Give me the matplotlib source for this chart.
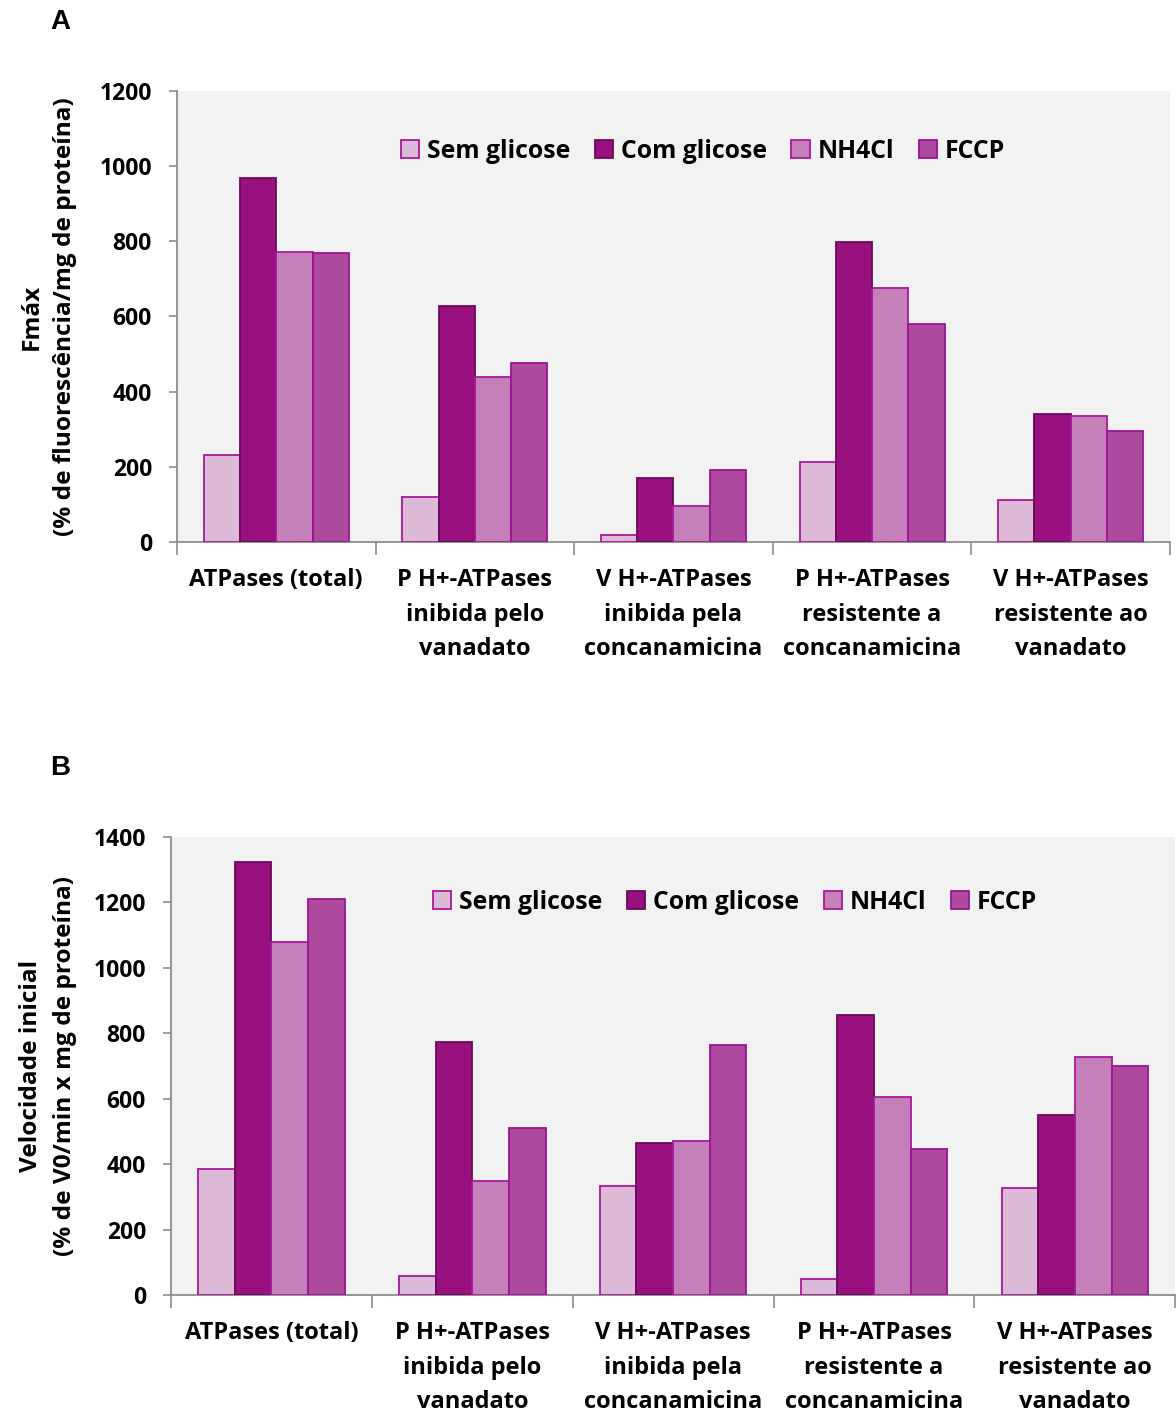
import matplotlib
matplotlib.use("Agg")
import matplotlib.pyplot as plt
import numpy as np

# Data
categories = [
    "ATPases (total)",
    "P H+-ATPases\ninibida pelo\nvanadato",
    "V H+-ATPases\ninibida pela\nconcanamicina",
    "P H+-ATPases\nresistente a\nconcanamicina",
    "V H+-ATPases\nresistente ao\nvanadato",
]
series_names = ["Sem glicose", "Com glicose", "NH4Cl", "FCCP"]

fmax_sem = [231, 120, 19, 213, 112]
fmax_com = [968, 628, 170, 798, 341]
fmax_nh4 = [772, 439, 96, 676, 335]
fmax_fccp = [769, 476, 192, 580, 295]

v0_sem = [385, 58, 333, 49, 327]
v0_com = [1324, 773, 465, 856, 550]
v0_nh4 = [1079, 349, 471, 605, 728]
v0_fccp = [1211, 510, 764, 446, 700]

yticks_a = [0, 200, 400, 600, 800, 1000, 1200]
yticks_b = [0, 200, 400, 600, 800, 1000, 1200, 1400]

# Style
fill_colors = ["#dcb9d6", "#99117f", "#c580ba", "#ad4a9e"]
edge_colors = ["#a8189a", "#6a0a58", "#a8189a", "#9c1392"]
BODY = "Open Sans"
SPINE = "#8c8c8c"

fig = plt.figure(figsize=(11.76, 14.12), dpi=100)


def draw_panel(rect, values, yticks, ylabel, legend_anchor, labelpad):
    ax = fig.add_axes(rect)
    ax.set_facecolor("#f2f2f2")
    n = len(categories)
    x = np.arange(n)
    group_w = 0.73
    bw = group_w / len(values)
    for i, vals in enumerate(values):
        offs = -group_w / 2 + bw * (i + 0.5)
        ax.bar(x + offs, vals, width=bw, color=fill_colors[i],
               edgecolor=edge_colors[i], linewidth=1.3,
               label=series_names[i], zorder=3)
    ax.set_xlim(-0.5, n - 0.5)
    ax.set_ylim(yticks[0], yticks[-1])
    ax.set_yticks(yticks)
    ax.set_yticklabels([str(t) for t in yticks], fontfamily=BODY,
                       fontweight="bold", fontsize=16.5)
    ax.tick_params(axis="y", length=6, width=1.2, color=SPINE, pad=12)
    # category boundaries carry the tick marks, centres carry the labels
    ax.set_xticks(np.arange(-0.5, n, 1.0))
    ax.set_xticklabels([])
    ax.tick_params(axis="x", which="major", length=9, width=1.2, color=SPINE)
    ax.set_xticks(x, minor=True)
    ax.set_xticklabels(categories, minor=True, fontfamily=BODY,
                       fontweight="bold", fontsize=17, linespacing=1.58)
    ax.tick_params(axis="x", which="minor", length=0, pad=19)
    for s in ("top", "right"):
        ax.spines[s].set_visible(False)
    for s in ("left", "bottom"):
        ax.spines[s].set_color(SPINE)
        ax.spines[s].set_linewidth(1.3)
    ax.set_ylabel(ylabel, fontfamily=BODY, fontweight="bold", fontsize=17.6,
                  linespacing=1.55, labelpad=labelpad)
    ax.legend(loc="center", bbox_to_anchor=legend_anchor, ncol=4,
              frameon=False, prop={"family": BODY, "weight": "bold", "size": 17.8},
              handlelength=0.75, handleheight=0.75, handletextpad=0.3,
              columnspacing=1.0, borderaxespad=0)
    return ax


ax_a = draw_panel([0.1505, 0.6161, 0.8444, 0.3195],
                  [fmax_sem, fmax_com, fmax_nh4, fmax_fccp], yticks_a,
                  "Fmáx\n(% de fluorescência/mg de proteína)", (0.5295, 0.866), 16)
ax_b = draw_panel([0.1454, 0.0829, 0.8540, 0.3243],
                  [v0_sem, v0_com, v0_nh4, v0_fccp], yticks_b,
                  "Velocidade inicial\n(% de V0/min x mg de proteína)", (0.5615, 0.858), 12)

fig.text(60 / 1176, 1 - 22 / 1412, "A", family="Liberation Sans",
         fontweight="bold", fontsize=20, ha="center", va="center")
fig.text(60 / 1176, 1 - 768 / 1412, "B", family="Liberation Sans",
         fontweight="bold", fontsize=20, ha="center", va="center")

fig.savefig("out.png", dpi=100)
